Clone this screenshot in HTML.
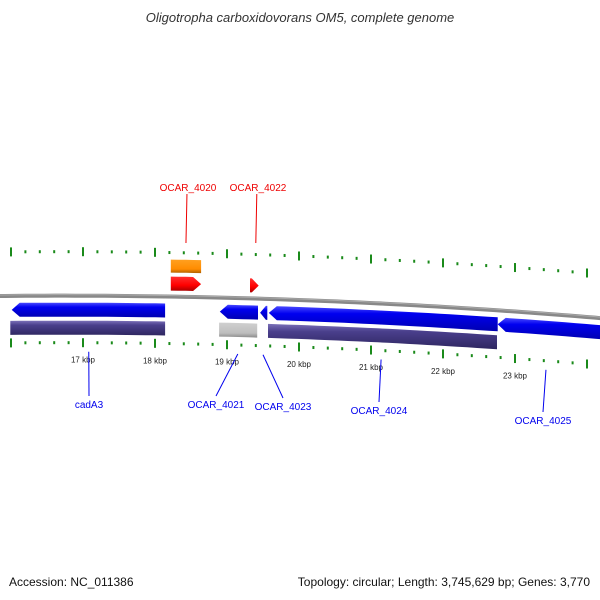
<!DOCTYPE html>
<html><head><meta charset="utf-8"><style>
body{margin:0;background:#fff}
svg{display:block;font-family:"Liberation Sans",sans-serif}
</style></head><body>
<svg id="c" width="600" height="600" viewBox="0 0 600 600">
<defs>
<linearGradient id="gBlue" x1="0" y1="0" x2="0" y2="1"><stop offset="0" stop-color="#4a4aff"/><stop offset="0.3" stop-color="#0000f0"/><stop offset="1" stop-color="#0000b0"/></linearGradient>
<linearGradient id="gPur" x1="0" y1="0" x2="0" y2="1"><stop offset="0" stop-color="#7a70b8"/><stop offset="0.3" stop-color="#4a3f8c"/><stop offset="1" stop-color="#2e2660"/></linearGradient>
<linearGradient id="gGray" x1="0" y1="0" x2="0" y2="1"><stop offset="0" stop-color="#d0d0d0"/><stop offset="0.7" stop-color="#bdbdbd"/><stop offset="1" stop-color="#8a8a8a"/></linearGradient>
<linearGradient id="gRed" x1="0" y1="0" x2="0" y2="1"><stop offset="0" stop-color="#ff3030"/><stop offset="0.6" stop-color="#f00"/><stop offset="1" stop-color="#a00"/></linearGradient>
<linearGradient id="gOr" x1="0" y1="0" x2="0" y2="1"><stop offset="0" stop-color="#ffa020"/><stop offset="0.7" stop-color="#ff8c00"/><stop offset="1" stop-color="#b06000"/></linearGradient>
</defs>
<text x="300" y="22" text-anchor="middle" font-size="13" font-style="italic" fill="#333">Oligotropha carboxidovorans OM5, complete genome</text>
<text x="9" y="586" font-size="12" fill="#111">Accession: NC_011386</text>
<text x="590" y="586" text-anchor="end" font-size="12" fill="#111">Topology: circular; Length: 3,745,629 bp; Genes: 3,770</text>
<g id="layer"></g>
</svg>
<script>
// kbp positions
const tickKb = [16,16.2,16.4,16.6,16.8,17,17.2,17.4,17.6,17.8,18,18.2,18.4,18.6,18.8,19,19.2,19.4,19.6,19.8,20,20.2,20.4,20.6,20.8,21,21.2,21.4,21.6,21.8,22,22.2,22.4,22.6,22.8,23,23.2,23.4,23.6,23.8,24,24.2];
const tickLabels = ["17 kbp","18 kbp","19 kbp","20 kbp","21 kbp","22 kbp","23 kbp"];
const labelKb = [17,18,19,20,21,22,23];
// genes
const geneNames = ["cadA3","cadA3-cds","OCAR_4020","OCAR_4020-cds","OCAR_4021","OCAR_4021-cds","OCAR_4022","OCAR_4023","OCAR_4024","OCAR_4024-cds","OCAR_4025"];
const geneStart = [16.01,15.99,18.22,18.22,18.90,18.89,19.32,19.46,19.58,19.57,22.76];
const geneEnd   = [18.14,18.14,18.64,18.64,19.43,19.42,19.44,19.56,22.76,22.75,24.25];
const geneStrand= [-1,0,1,0,-1,0,1,-1,-1,0,-1];
const geneRow   = ["rev","revbar","fwd","fwdbar","rev","revbar","fwd","rev","rev","revbar","rev"];
const geneFill  = ["gBlue","gPur","gRed","gOr","gBlue","gGray","gRed","gBlue","gBlue","gPur","gBlue"];
// callout labels
const calloutText = ["OCAR_4020","OCAR_4022","cadA3","OCAR_4021","OCAR_4023","OCAR_4024","OCAR_4025"];
const calloutKb = [18.43,19.40,17.08,19.15,19.5,21.14,23.43];
const calloutLabelX = [188,258,89,216,283,379,543];

const X = kb => 83 + (kb-17)*72;
const B = x => 296 - 0.01*x + 7.8e-5*x*x;
const NS='http://www.w3.org/2000/svg';
const L=document.getElementById('layer');
function mk(tag,attrs,name){const e=document.createElementNS(NS,tag);for(const k in attrs)e.setAttribute(k,attrs[k]);


L.appendChild(e);return e;}
function curve(x0,x1,off){let p=[];const n=Math.max(2,Math.ceil((x1-x0)/10));for(let i=0;i<=n;i++){const x=x0+(x1-x0)*i/n;p.push([x,B(x)+off]);}return p;}
mk('polyline',{points:curve(-5,605,0).map(p=>p.join(',')).join(' '),fill:'none',stroke:'#888',"stroke-width":4},'backbone');
mk('polyline',{points:curve(-5,605,-1).map(p=>p.join(',')).join(' '),fill:'none',stroke:'#aaa',"stroke-width":1},'backbone-highlight');
tickKb.forEach((kb,i)=>{const x=X(kb);const major=Math.abs(kb-Math.round(kb))<1e-6;
 const b=B(x);
 const h=major?4.5:1.5;
 mk('line',{x1:x,x2:x,y1:b-44-h,y2:b-44+h,stroke:'#1a8a1a',"stroke-width":2},'top-tick');
 mk('line',{x1:x,x2:x,y1:b+47-h,y2:b+47+h,stroke:'#1a8a1a',"stroke-width":2},'bottom-tick');
});
labelKb.forEach((kb,i)=>{const x=X(kb);const t=mk('text',{x:x,y:B(x)+67,"text-anchor":"middle","font-size":8,fill:'#222'},'kbp-label');t.textContent=tickLabels[i];});
const rows={rev:[7,21],revbar:[25,39],fwd:[-20,-6],fwdbar:[-37,-24]};
geneNames.forEach((n,i)=>{
 const x0=X(geneStart[i]),x1=X(geneEnd[i]);const [a,b]=rows[geneRow[i]];
 const head=Math.min(8,(x1-x0)*0.8);
 let pts;
 if(geneStrand[i]===1){
   const top=curve(x0,x1-head,a),bot=curve(x0,x1-head,b).reverse();
   pts=[...top,[x1,B(x1)+(a+b)/2],...bot];
 } else if(geneStrand[i]===-1){
   const top=curve(x0+head,x1,a),bot=curve(x0+head,x1,b).reverse();
   pts=[[x0,B(x0)+(a+b)/2],...top,...bot];
 } else {
   pts=[...curve(x0,x1,a),...curve(x0,x1,b).reverse()];
 }
 mk('polygon',{points:pts.map(p=>p.map(v=>v.toFixed(1)).join(',')).join(' '),fill:'url(#'+geneFill[i]+')'},'gene-'+n);
});
calloutText.forEach((t,i)=>{
 const gx=X(calloutKb[i]);const top=i<2;const col=top?'#e00':'#00e';
 const lx=calloutLabelX[i];
 if(top){
   mk('line',{x1:gx+1,y1:194,x2:gx,y2:243,stroke:col,"stroke-width":1},'callout-line');
   const e=mk('text',{x:lx,y:191,"text-anchor":"middle","font-size":10,fill:col},'callout-label');e.textContent=t;
 } else {
   const gy=B(gx)+56, ly=[0,0,400,400,402,406,416][i];
   mk('line',{x1:gx,y1:gy,x2:lx,y2:ly-4,stroke:col,"stroke-width":1},'callout-line');
   const e=mk('text',{x:lx,y:ly+8,"text-anchor":"middle","font-size":10,fill:col},'callout-label');e.textContent=t;
 }
});
</script>
</body></html>
